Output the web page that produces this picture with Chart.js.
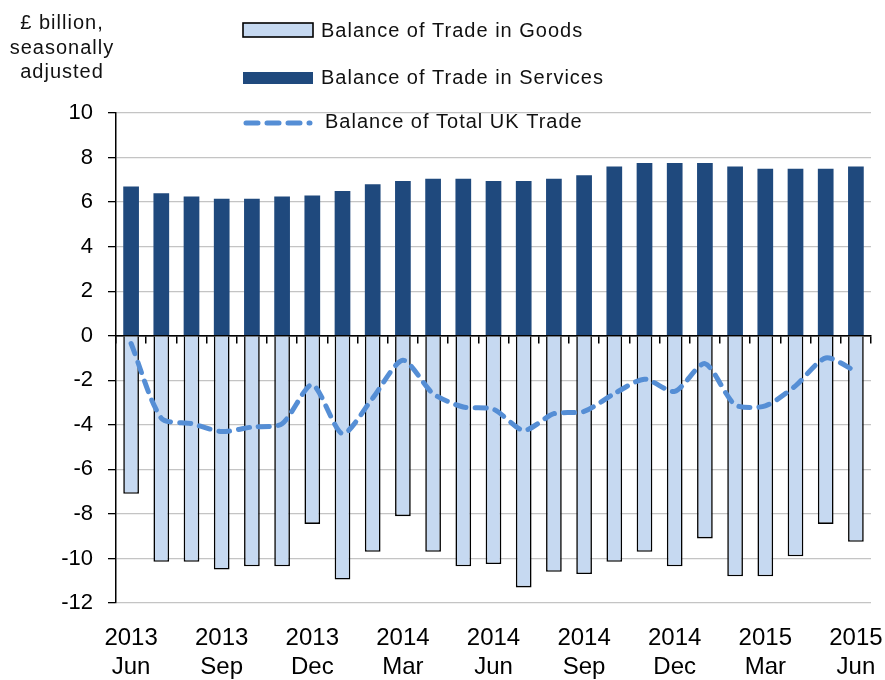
<!DOCTYPE html>
<html lang="en">
<head>
    <meta charset="UTF-8">
    <title>UK Balance of Trade</title>
    <script src="https://cdn.jsdelivr.net/npm/chart.js"></script>
    <style>
        body {
            margin: 0;
            padding: 0;
            background: #ffffff;
        }
        .chart-container {
            width: 885px;
            height: 680px;
            position: relative;
        }
    </style>
</head>
<body>
    <div class="chart-container">
        <canvas id="tradeChart"></canvas>
    </div>

    <script>
        const months = ['2013 Jun', '2013 Jul', '2013 Aug', '2013 Sep', '2013 Oct', '2013 Nov', '2013 Dec',
            '2014 Jan', '2014 Feb', '2014 Mar', '2014 Apr', '2014 May', '2014 Jun', '2014 Jul', '2014 Aug',
            '2014 Sep', '2014 Oct', '2014 Nov', '2014 Dec', '2015 Jan', '2015 Feb', '2015 Mar', '2015 Apr',
            '2015 May', '2015 Jun'];
        const goods = [-7.1, -10.15, -10.15, -10.5, -10.35, -10.35, -8.45, -10.95, -9.7, -8.1, -9.7, -10.35, -10.25,
            -11.3, -10.6, -10.7, -10.15, -9.7, -10.35, -9.1, -10.8, -10.8, -9.9, -8.45, -9.25];
        const services = [6.7, 6.4, 6.25, 6.15, 6.15, 6.25, 6.3, 6.5, 6.8, 6.95, 7.05, 7.05, 6.95,
            6.95, 7.05, 7.2, 7.6, 7.75, 7.75, 7.75, 7.6, 7.5, 7.5, 7.5, 7.6];
        const total = [-0.35, -3.7, -3.95, -4.3, -4.1, -3.95, -2.2, -4.4, -2.8, -1.1, -2.6, -3.2, -3.3,
            -4.25, -3.5, -3.4, -2.6, -1.95, -2.5, -1.25, -3.1, -3.15, -2.25, -1.0, -1.6];
        const yTitle = ['£ billion,', 'seasonally', 'adjusted'];

        const FONT = "'Liberation Sans', Arial, sans-serif";
        const goodsColor = '#c6d9f1';
        const servicesColor = '#1f497d';
        const totalColor = '#558ed5';

        // legend + y title drawn by hand (stacked vertically like the original)
        const extras = {
            id: 'extras',
            afterDraw(chart) {
                const c = chart.ctx;
                c.save();
                c.fillStyle = '#111';
                c.font = '20px ' + FONT;
                c.letterSpacing = '1px';
                c.textAlign = 'center';
                c.textBaseline = 'alphabetic';
                yTitle.forEach((t, i) => c.fillText(t, 62, 29 + i * 24.5));

                const ds = chart.data.datasets;
                c.textAlign = 'left';
                // goods
                c.fillStyle = goodsColor;
                c.fillRect(243, 23, 70, 14);
                c.strokeStyle = '#000';
                c.lineWidth = 1.6;
                c.strokeRect(243, 23, 70, 14);
                c.fillStyle = '#111';
                c.fillText(ds[1].label, 321, 36.5);
                // services
                c.fillStyle = servicesColor;
                c.fillRect(243, 72, 70, 12);
                c.fillStyle = '#111';
                c.fillText(ds[2].label, 321, 83.5);
                // total
                c.strokeStyle = totalColor;
                c.lineWidth = 5;
                c.lineCap = 'round';
                c.setLineDash([12, 9]);
                c.beginPath();
                c.moveTo(246, 123);
                c.lineTo(310, 123);
                c.stroke();
                c.setLineDash([]);
                c.fillStyle = '#111';
                c.fillText(ds[0].label, 325, 128);
                c.restore();
            }
        };

        const ctx = document.getElementById('tradeChart').getContext('2d');
        const tradeChart = new Chart(ctx, {
            type: 'bar',
            data: {
                labels: months,
                datasets: [
                    {
                        type: 'line',
                        label: 'Balance of Total UK Trade',
                        data: total,
                        stack: 'line',
                        order: 0,
                        borderColor: totalColor,
                        borderWidth: 5,
                        borderDash: [11, 9],
                        borderCapStyle: 'round',
                        pointRadius: 0,
                        tension: 0.25,
                        fill: false
                    },
                    {
                        label: 'Balance of Trade in Goods',
                        data: goods,
                        stack: 'bars',
                        order: 1,
                        backgroundColor: goodsColor,
                        borderColor: '#000',
                        borderWidth: 1.6,
                        barPercentage: 0.52,
                        categoryPercentage: 1
                    },
                    {
                        label: 'Balance of Trade in Services',
                        data: services,
                        stack: 'bars',
                        order: 1,
                        backgroundColor: servicesColor,
                        borderWidth: 0,
                        barPercentage: 0.52,
                        categoryPercentage: 1
                    }
                ]
            },
            options: {
                responsive: true,
                maintainAspectRatio: false,
                animation: false,
                layout: {
                    padding: { top: 113, right: 14, left: 0, bottom: 0 }
                },
                scales: {
                    x: {
                        stacked: true,
                        grid: { display: false, drawTicks: false },
                        border: { display: false },
                        ticks: {
                            autoSkip: false,
                            maxRotation: 0,
                            padding: 21,
                            color: '#000',
                            font: { family: FONT, size: 24 },
                            callback: (v, i) => i % 3 === 0 ? months[i].split(' ') : ''
                        },
                        afterFit: s => {
                            s.height = 77;
                            s.paddingLeft = 0;
                            s.paddingRight = 0;
                        }
                    },
                    x2: {
                        type: 'category',
                        position: { y: 0 },
                        offset: true,
                        grid: {
                            offset: true,
                            drawOnChartArea: false,
                            drawTicks: true,
                            tickLength: 7,
                            color: '#000',
                            lineWidth: 1.5
                        },
                        border: { color: '#000', width: 1.5 },
                        ticks: { display: false },
                        afterFit: s => {
                            s.height = 0;
                            s.paddingLeft = 0;
                            s.paddingRight = 0;
                        }
                    },
                    y: {
                        stacked: true,
                        min: -12,
                        max: 10,
                        ticks: {
                            stepSize: 2,
                            padding: 15,
                            color: '#000',
                            font: { family: FONT, size: 22 }
                        },
                        grid: {
                            color: c => c.tick && c.tick.value === 0 ? '#000' : '#c4c4c4',
                            lineWidth: 1.3,
                            tickLength: 8,
                            tickColor: '#000'
                        },
                        border: { color: '#000', width: 1.5 },
                        afterFit: s => { s.width = 116; }
                    }
                },
                plugins: {
                    legend: { display: false },
                    tooltip: { enabled: false }
                }
            },
            plugins: [extras]
        });
    </script>
</body>
</html>
